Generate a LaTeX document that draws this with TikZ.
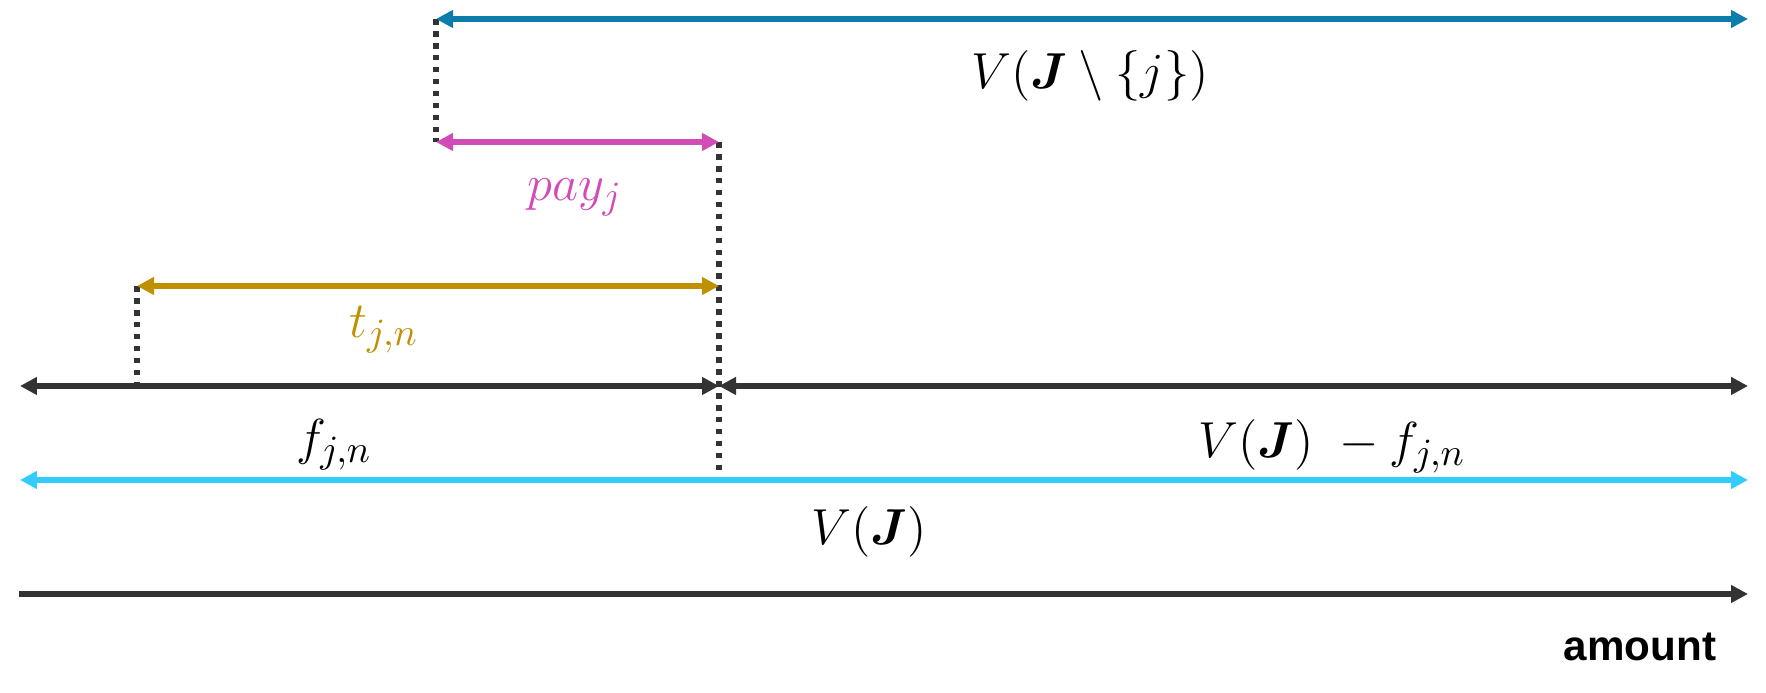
\documentclass[tikz,border=0pt]{standalone}
\usepackage{mathtools}
\usepackage{bm}
\usepackage{fontspec}
\newfontfamily\amountfont{Liberation Sans}
\usetikzlibrary{arrows.meta}
\definecolor{topteal}{HTML}{0B7CAB}
\definecolor{paypink}{HTML}{D24CB8}
\definecolor{tgold}{HTML}{BF9000}
\definecolor{vcyan}{HTML}{33CCFF}
\definecolor{darkline}{HTML}{333333}

\begin{document}
\begin{tikzpicture}[x=1cm, y=1cm,
  bar/.style={line width=1.6pt, {Triangle[length=0.17cm,width=0.17cm]}-{Triangle[length=0.17cm,width=0.17cm]}},
  guide/.style={draw=darkline, line width=1.6pt, dash pattern=on 1.6pt off 1.8pt},
  lbl/.style={font=\fontsize{15}{18}\selectfont, inner sep=0pt}]
  \useasboundingbox (0,0) rectangle (17.66,6.93);

  \coordinate (topL) at (4.36,6.74);  \coordinate (topR) at (17.48,6.74);
  \coordinate (payL) at (4.36,5.51);  \coordinate (payR) at (7.19,5.51);
  \coordinate (tL) at (1.37,4.07);    \coordinate (tR) at (7.19,4.07);
  \coordinate (fL) at (0.20,3.07);    \coordinate (fR) at (7.19,3.07);
  \coordinate (restR) at (17.48,3.07);
  \coordinate (tBase) at (1.37,3.07);
  \coordinate (splitEnd) at (7.19,2.22);
  \coordinate (vL) at (0.20,2.13);    \coordinate (vR) at (17.48,2.13);
  \coordinate (axL) at (0.19,0.99);   \coordinate (axR) at (17.48,0.99);

  \draw[guide] (topL) -- (payL);
  \draw[guide] (payR) -- (splitEnd);
  \draw[guide] (tL) -- (tBase);

  \draw[bar, topteal] (topL) -- (topR);
  \draw[bar, paypink] (payL) -- (payR);
  \draw[bar, tgold] (tL) -- (tR);
  \draw[bar, darkline] (fL) -- (fR);
  \draw[bar, darkline] (fR) -- (restR);
  \draw[bar, vcyan] (vL) -- (vR);
  \draw[line width=1.6pt, darkline, -{Triangle[length=0.17cm,width=0.17cm]}] (axL) -- (axR);

  \node[lbl] (lblTop) at (10.90,6.17) {$V(\bm{J}\setminus\{j\})$};
  \node[lbl, text=paypink] (lblPay) at (5.75,4.96) {$pay_j$};
  \node[lbl, text=tgold] (lblT) at (3.84,3.63) {$t_{j,n}$};
  \node[lbl] (lblF) at (3.34,2.48) {$f_{j,n}$};
  \node[lbl] (lblRest) at (13.32,2.47) {$V(\bm{J})\;-f_{j,n}$};
  \node[lbl] (lblV) at (8.69,1.61) {$V(\bm{J})$};
  \node[inner sep=0pt, font=\amountfont\bfseries\fontsize{12}{14}\selectfont] (lblAmount) at (16.40,0.46) {amount};
\end{tikzpicture}
\end{document}
